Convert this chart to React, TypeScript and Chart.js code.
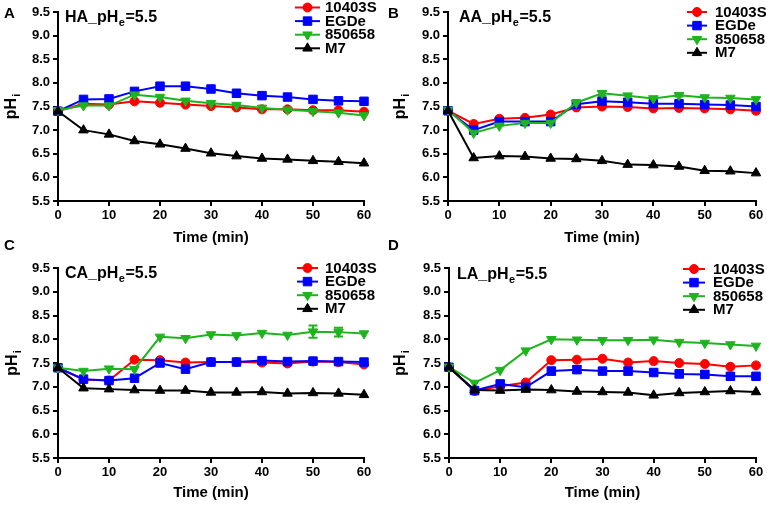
import React, { useEffect, useRef } from 'react';
import { Chart, registerables } from 'chart.js';

Chart.register(...registerables);

const FONT = '"Liberation Sans", Arial, Helvetica, sans-serif';
Chart.defaults.font.family = FONT;

// ---------- data ----------
const times = [0, 5, 10, 15, 20, 25, 30, 35, 40, 45, 50, 55, 60];
const strainLabels = ['10403S', 'EGDe', '850658', 'M7'];
const strainColors = ['#FF0000', '#0000FF', '#1EB41E', '#000000'];
const yMin = 5.5;
const yMax = 9.5;
const yStep = 0.5;
const xMin = 0;
const xMax = 60;
const xStep = 10;

// HA
const ha10403S = [7.40, 7.56, 7.54, 7.61, 7.58, 7.54, 7.51, 7.48, 7.44, 7.44, 7.42, 7.42, 7.39];
const haEGDe = [7.40, 7.65, 7.66, 7.82, 7.93, 7.93, 7.87, 7.78, 7.73, 7.70, 7.65, 7.62, 7.61];
const ha850658 = [7.42, 7.52, 7.52, 7.75, 7.70, 7.62, 7.57, 7.53, 7.47, 7.43, 7.40, 7.37, 7.31];
const haM7 = [7.40, 7.00, 6.91, 6.77, 6.70, 6.61, 6.51, 6.45, 6.40, 6.38, 6.35, 6.33, 6.30];

// AA
const aa10403S = [7.41, 7.13, 7.24, 7.26, 7.33, 7.48, 7.50, 7.49, 7.46, 7.47, 7.46, 7.44, 7.41];
const aaEGDe = [7.41, 7.00, 7.18, 7.18, 7.18, 7.55, 7.61, 7.59, 7.56, 7.56, 7.54, 7.53, 7.50];
const aa850658 = [7.43, 6.94, 7.09, 7.15, 7.15, 7.58, 7.78, 7.73, 7.67, 7.74, 7.69, 7.68, 7.65];
const aaM7 = [7.41, 6.41, 6.45, 6.44, 6.40, 6.39, 6.35, 6.27, 6.26, 6.23, 6.14, 6.13, 6.09];
const aa850658Err = [0, 0, 0, 0, 0, 0, 0.05, 0, 0, 0.03, 0, 0, 0];

// CA
const ca10403S = [7.40, 7.15, 7.13, 7.57, 7.56, 7.51, 7.52, 7.52, 7.51, 7.49, 7.53, 7.52, 7.47];
const caEGDe = [7.40, 7.16, 7.13, 7.18, 7.50, 7.37, 7.52, 7.52, 7.55, 7.53, 7.54, 7.53, 7.52];
const ca850658 = [7.40, 7.33, 7.38, 7.37, 8.05, 8.02, 8.10, 8.08, 8.13, 8.09, 8.16, 8.15, 8.12];
const caM7 = [7.40, 6.97, 6.95, 6.93, 6.92, 6.92, 6.88, 6.88, 6.89, 6.86, 6.87, 6.86, 6.83];
const ca850658Err = [0, 0, 0, 0, 0, 0, 0, 0, 0, 0, 0.13, 0.09, 0];

// LA
const la10403S = [7.41, 6.91, 7.01, 7.09, 7.56, 7.57, 7.59, 7.51, 7.54, 7.50, 7.48, 7.42, 7.45];
const laEGDe = [7.41, 6.92, 7.06, 6.99, 7.33, 7.36, 7.33, 7.33, 7.30, 7.27, 7.26, 7.22, 7.22];
const la850658 = [7.42, 7.08, 7.35, 7.76, 8.00, 7.99, 7.98, 7.98, 7.99, 7.94, 7.92, 7.89, 7.86];
const laM7 = [7.41, 6.93, 6.92, 6.94, 6.93, 6.90, 6.89, 6.88, 6.82, 6.87, 6.89, 6.91, 6.89];
const laEGDeErr = [0, 0, 0, 0, 0.07, 0.07, 0.05, 0.07, 0.05, 0.07, 0.06, 0.06, 0.04];

// ---------- styles ----------
const pointStyles = ['circle', 'rect', 'triangle', 'triangle'];
const pointRotations = [0, 0, 180, 0];
const pointRadii = [4.5, 6, 5.5, 5.5];

type PanelSpec = {
  letter: string;
  acid: string;
  series: number[][];
  errors: (number[] | null)[];
  left: number;
  top: number;
  w: number;
  h: number;
  padTop: number;
  padRight: number;
  yW: number;
  xH: number;
  titleX: number;
  titleY: number;
  yTitleX: number;
  legX1: number;
  legX2: number;
  legTextX: number;
  legY0: number;
  letterX: number;
  letterY: number;
};

const panels: PanelSpec[] = [
  {
    letter: 'A', acid: 'HA', series: [ha10403S, haEGDe, ha850658, haM7], errors: [null, null, null, null],
    left: 0, top: 0, w: 383, h: 250, padTop: 12, padRight: 19, yW: 58, xH: 49,
    titleX: 65, titleY: 22, yTitleX: 10,
    legX1: 295, legX2: 320, legTextX: 325, legY0: 7.5,
    letterX: 4, letterY: 18,
  },
  {
    letter: 'B', acid: 'AA', series: [aa10403S, aaEGDe, aa850658, aaM7], errors: [null, null, aa850658Err, null],
    left: 383, top: 0, w: 384, h: 250, padTop: 12, padRight: 11, yW: 65, xH: 49,
    titleX: 76, titleY: 22, yTitleX: 16,
    legX1: 304, legX2: 324, legTextX: 332, legY0: 12,
    letterX: 388, letterY: 18,
  },
  {
    letter: 'C', acid: 'CA', series: [ca10403S, caEGDe, ca850658, caM7], errors: [null, null, ca850658Err, null],
    left: 0, top: 250, w: 383, h: 255, padTop: 18, padRight: 19, yW: 58, xH: 47,
    titleX: 65, titleY: 28, yTitleX: 11,
    legX1: 297, legX2: 318, legTextX: 325, legY0: 18,
    letterX: 4, letterY: 250,
  },
  {
    letter: 'D', acid: 'LA', series: [la10403S, laEGDe, la850658, laM7], errors: [null, laEGDeErr, null, null],
    left: 383, top: 250, w: 384, h: 255, padTop: 18, padRight: 11, yW: 66, xH: 47,
    titleX: 74, titleY: 29, yTitleX: 16,
    legX1: 300, legX2: 322, legTextX: 330, legY0: 19,
    letterX: 388, letterY: 250,
  },
];

const LEG_STEP = 13.6;

function drawMarker(ctx: CanvasRenderingContext2D, style: string, rot: number, r: number, x: number, y: number, color: string) {
  ctx.save();
  ctx.fillStyle = color;
  ctx.strokeStyle = color;
  ctx.lineWidth = 1;
  ctx.beginPath();
  if (style === 'circle') {
    ctx.arc(x, y, r, 0, Math.PI * 2);
  } else if (style === 'rect') {
    const s = r * Math.SQRT1_2;
    ctx.rect(x - s, y - s, 2 * s, 2 * s);
  } else {
    let a = (rot * Math.PI) / 180;
    for (let k = 0; k < 3; k++) {
      const px = x + Math.sin(a) * r;
      const py = y - Math.cos(a) * r;
      if (k === 0) ctx.moveTo(px, py);
      else ctx.lineTo(px, py);
      a += (2 * Math.PI) / 3;
    }
    ctx.closePath();
  }
  ctx.fill();
  ctx.stroke();
  ctx.restore();
}

function makeDecor(spec: PanelSpec) {
  return {
    id: 'decor' + spec.letter,
    beforeDatasetsDraw(chart: any) {
      const ctx: CanvasRenderingContext2D = chart.ctx;
      const xs = chart.scales.x;
      const ys = chart.scales.y;
      spec.errors.forEach((err, i) => {
        if (!err) return;
        const vals = spec.series[i];
        ctx.save();
        ctx.strokeStyle = strainColors[i];
        ctx.lineWidth = 2;
        err.forEach((e, j) => {
          if (!e) return;
          const x = xs.getPixelForValue(times[j]);
          const y1 = ys.getPixelForValue(vals[j] + e);
          const y2 = ys.getPixelForValue(vals[j] - e);
          ctx.beginPath();
          ctx.moveTo(x, y1);
          ctx.lineTo(x, y2);
          ctx.moveTo(x - 4.5, y1);
          ctx.lineTo(x + 4.5, y1);
          ctx.moveTo(x - 4.5, y2);
          ctx.lineTo(x + 4.5, y2);
          ctx.stroke();
        });
        ctx.restore();
      });
    },
    afterDraw(chart: any) {
      const ctx: CanvasRenderingContext2D = chart.ctx;
      const area = chart.chartArea;
      ctx.save();
      ctx.fillStyle = '#000';
      ctx.textAlign = 'left';
      ctx.textBaseline = 'alphabetic';
      // panel title with subscript
      let x = spec.titleX;
      ctx.font = `bold 16px ${FONT}`;
      const t1 = spec.acid + '_pH';
      ctx.fillText(t1, x, spec.titleY);
      x += ctx.measureText(t1).width;
      ctx.font = `bold 11px ${FONT}`;
      ctx.fillText('e', x + 0.5, spec.titleY + 4);
      x += ctx.measureText('e').width + 1;
      ctx.font = `bold 16px ${FONT}`;
      ctx.fillText('=5.5', x, spec.titleY);

      // y title pH_i
      const cy = (area.top + area.bottom) / 2;
      ctx.translate(spec.yTitleX, cy);
      ctx.rotate(-Math.PI / 2);
      ctx.font = `bold 16px ${FONT}`;
      const wMain = ctx.measureText('pH').width;
      ctx.font = `bold 11px ${FONT}`;
      const wSub = ctx.measureText('i').width;
      const start = -(wMain + wSub + 1) / 2;
      ctx.font = `bold 16px ${FONT}`;
      ctx.fillText('pH', start, 6);
      ctx.font = `bold 11px ${FONT}`;
      ctx.fillText('i', start + wMain + 1, 10);
      ctx.restore();

      // legend
      ctx.save();
      strainLabels.forEach((lab, i) => {
        const y = spec.legY0 + i * LEG_STEP;
        ctx.strokeStyle = strainColors[i];
        ctx.lineWidth = 2;
        ctx.beginPath();
        ctx.moveTo(spec.legX1, y);
        ctx.lineTo(spec.legX2, y);
        ctx.stroke();
        drawMarker(ctx, pointStyles[i], pointRotations[i], pointRadii[i], (spec.legX1 + spec.legX2) / 2, y, strainColors[i]);
        ctx.fillStyle = '#000';
        ctx.font = `bold 15px ${FONT}`;
        ctx.textBaseline = 'middle';
        ctx.textAlign = 'left';
        ctx.fillText(lab, spec.legTextX, y + 0.5);
      });
      ctx.restore();
    },
  };
}

function buildConfig(spec: PanelSpec): any {
  const tickFont = { size: 13, weight: 'bold' as const, family: FONT };
  const axisGrid = {
    display: true,
    drawOnChartArea: false,
    drawTicks: true,
    tickLength: 5,
    color: '#000',
    lineWidth: 2,
  };
  const axisBorder = { display: true, color: '#000', width: 2 };
  // draw order: M7 on top, then 850658, EGDe, 10403S at bottom
  return {
    type: 'line',
    data: {
      datasets: spec.series.map((vals, i) => ({
        label: strainLabels[i],
        data: times.map((t, j) => ({ x: t, y: vals[j] })),
        borderColor: strainColors[i],
        backgroundColor: strainColors[i],
        pointBackgroundColor: strainColors[i],
        pointBorderColor: strainColors[i],
        borderWidth: 2,
        pointStyle: pointStyles[i],
        pointRotation: pointRotations[i],
        pointRadius: pointRadii[i],
        pointBorderWidth: 1,
        tension: 0,
        fill: false,
        clip: false,
        order: 4 - i,
      })),
    },
    options: {
      responsive: false,
      maintainAspectRatio: false,
      animation: false,
      events: [],
      devicePixelRatio: 1,
      layout: { padding: { left: 0, top: spec.padTop, right: spec.padRight, bottom: 0 } },
      plugins: {
        legend: { display: false },
        tooltip: { enabled: false },
        title: { display: false },
      },
      scales: {
        x: {
          type: 'linear',
          min: xMin,
          max: xMax,
          ticks: { stepSize: xStep, font: tickFont, color: '#000', padding: 2, maxRotation: 0 },
          grid: axisGrid,
          border: axisBorder,
          title: {
            display: true,
            text: 'Time (min)',
            color: '#000',
            font: { size: 15, weight: 'bold', family: FONT },
            padding: { top: 0, bottom: 3.5 },
          },
          afterFit: (s: any) => {
            s.height = spec.xH;
          },
        },
        y: {
          type: 'linear',
          min: yMin,
          max: yMax,
          ticks: {
            stepSize: yStep,
            font: tickFont,
            color: '#000',
            padding: 3,
            callback: (v: any) => Number(v).toFixed(1),
          },
          grid: axisGrid,
          border: axisBorder,
          afterFit: (s: any) => {
            s.width = spec.yW;
          },
        },
      },
    },
    plugins: [makeDecor(spec)],
  };
}

function Panel({ spec }: { spec: PanelSpec }) {
  const ref = useRef<HTMLCanvasElement>(null);
  useEffect(() => {
    const canvas = ref.current;
    if (!canvas) return;
    const chart = new Chart(canvas, buildConfig(spec));
    return () => chart.destroy();
  }, [spec]);
  return (
    <canvas
      ref={ref}
      width={spec.w}
      height={spec.h}
      style={{ position: 'absolute', left: spec.left, top: spec.top, width: spec.w, height: spec.h }}
    />
  );
}

export default function App() {
  return (
    <div
      style={{
        position: 'fixed',
        left: 0,
        top: 0,
        width: 767,
        height: 505,
        background: '#fff',
        overflow: 'hidden',
      }}
    >
      {panels.map((p) => (
        <Panel key={p.letter} spec={p} />
      ))}
      {panels.map((p) => (
        <div
          key={'L' + p.letter}
          style={{
            position: 'absolute',
            left: p.letterX,
            top: p.letterY - 13,
            fontFamily: FONT,
            fontWeight: 'bold',
            fontSize: 15,
            lineHeight: '15px',
            color: '#000',
          }}
        >
          {p.letter}
        </div>
      ))}
    </div>
  );
}
